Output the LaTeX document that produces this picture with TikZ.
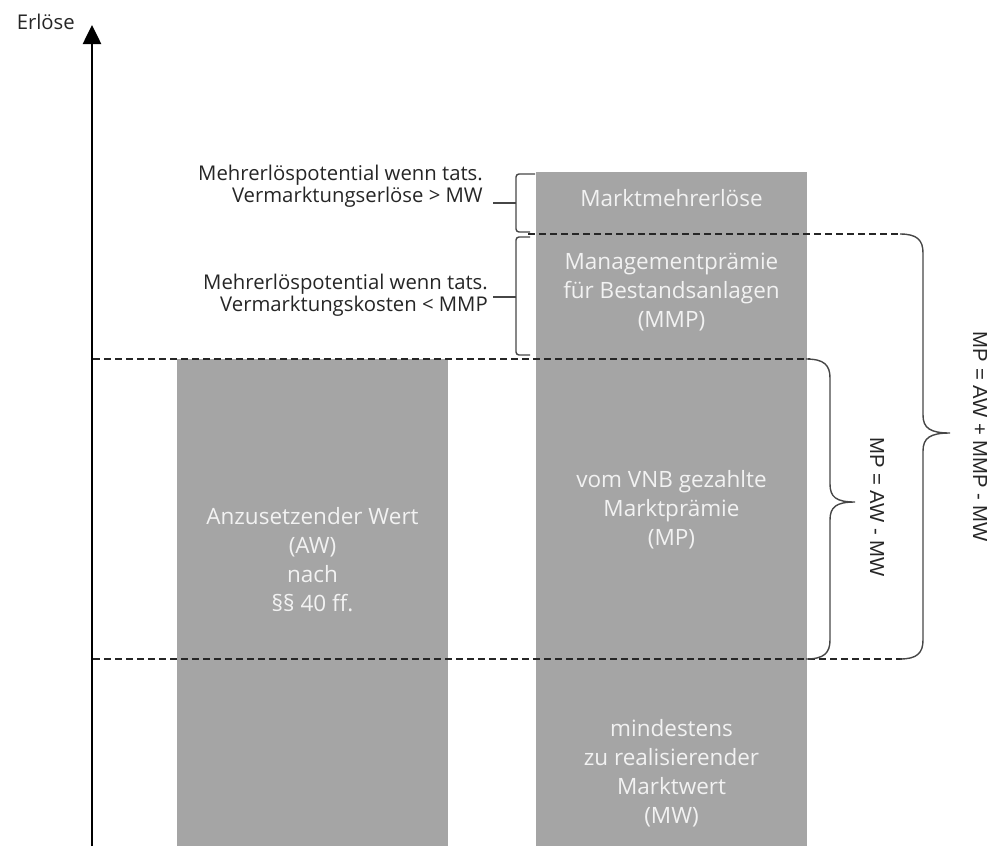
\documentclass[tikz,border=0pt]{standalone}
\usepackage{fontspec}
\setmainfont{Open Sans}
\newfontfamily\arialfont{Liberation Sans}
\usetikzlibrary{arrows.meta}
\definecolor{barfill}{RGB}{165,165,165}
\definecolor{bartext}{RGB}{242,242,242}
\definecolor{bracecol}{RGB}{70,70,70}
\tikzset{
  bar/.style={fill=barfill, draw=none},
  bartxt/.style={text=bartext, align=center, inner sep=0pt, font=\fontsize{22.5}{29}\selectfont},
  lbl/.style={text=black!85, align=right, inner sep=0pt, anchor=east, font=\fontsize{20.3}{22}\selectfont},
  guide/.style={dashed, dash pattern=on 7pt off 4pt, line width=1.4pt, black!85},
  bracestyle/.style={draw=bracecol, line width=1.4pt},
  formula/.style={text=black!85, inner sep=0pt, rotate=-90, font=\arialfont\fontsize{20.3}{24}\selectfont},
}
\begin{document}
\begin{tikzpicture}[x=1pt,y=-1pt]
\useasboundingbox (0,0) rectangle (1006,846);
% bars
\fill[bar] (177,359) rectangle (448,846);
\fill[bar] (536,172) rectangle (807,846);
% axis
\coordinate (axbot) at (92,846);
\coordinate (axtop) at (92,25);
\draw[line width=2.6pt, -{Triangle[width=18pt,length=19pt]}] (axbot) -- (axtop);
\node[anchor=east, inner sep=0pt, text=black!85, font=\fontsize{20.3}{22}\selectfont] (erl) at (75,22) {Erlöse};
% dashed guides
\draw[guide] (528,234) -- (902,234);
\draw[guide] (93,359) -- (810,359);
\draw[guide] (93,659) -- (902,659);
% bar texts
\node[bartxt] (mme) at (671.5,198) {Marktmehrerlöse};
\node[bartxt] (mmp) at (671.5,292) {Managementprämie\\für Bestandsanlagen\\(MMP)};
\node[bartxt] (mp) at (671.5,510) {vom VNB gezahlte\\Marktprämie\\(MP)};
\node[bartxt] (mw) at (671.5,773) {mindestens\\zu realisierender\\Marktwert\\(MW)};
\node[bartxt] (aw) at (312.5,560) {Anzusetzender Wert\\(AW)\\nach\\§§ 40 ff.};
% left labels
\node[lbl] (l1) at (483,186) {Mehrerlöspotential wenn tats.\\Vermarktungserlöse > MW};
\node[lbl] (l2) at (488,295) {Mehrerlöspotential wenn tats.\\Vermarktungskosten < MMP};
% left braces
\draw[bracestyle, rounded corners=3pt] (535,174) -- (516,174) -- (516,232) -- (530,232);
\draw[bracestyle] (516,203) -- (493,203);
\draw[bracestyle, rounded corners=3pt] (530,237) -- (516,237) -- (516,355) -- (530,355);
\draw[bracestyle] (516,297) -- (493,297);
% middle brace
\draw[bracestyle] (806,359) .. controls (824,359) and (830,365) .. (830,378) -- (830,484)
  .. controls (830,497) and (836,502) .. (855,502)
  .. controls (836,502) and (830,507) .. (830,520) -- (830,640)
  .. controls (830,653) and (824,659) .. (806,659);
% big brace
\draw[bracestyle] (900,234) .. controls (917,234) and (923,240) .. (923,253) -- (923,415)
  .. controls (923,428) and (930,433) .. (950,433)
  .. controls (930,433) and (923,438) .. (923,451) -- (923,640)
  .. controls (923,653) and (917,659) .. (900,659);
% formulas
\node[formula] (f1) at (877,507) {MP = AW - MW};
\node[formula] (f2) at (980,437) {MP = AW + MMP - MW};
\end{tikzpicture}
\end{document}
